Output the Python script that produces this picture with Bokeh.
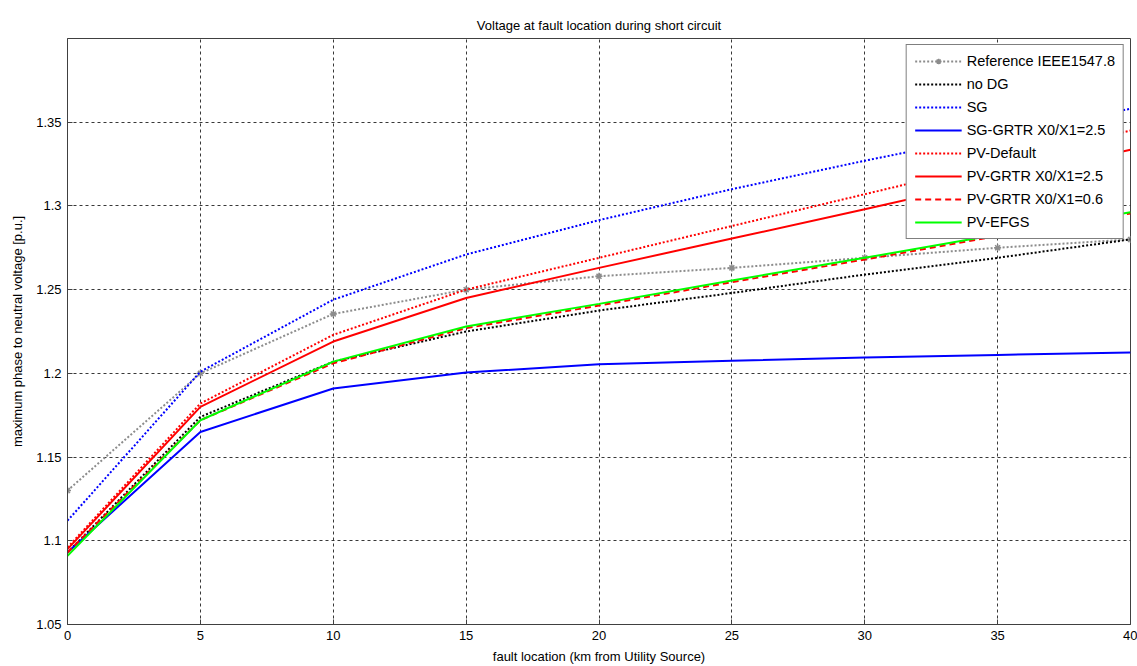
from bokeh.plotting import figure
from bokeh.models import FixedTicker, Legend, LegendItem
from bokeh.embed import file_html
from bokeh.resources import INLINE

# ---- data ----
x_km = [0, 5, 10, 15, 20, 25, 30, 35, 40]
ref_ieee = [1.130, 1.200, 1.2355, 1.250, 1.258, 1.263, 1.269, 1.275, 1.280]
no_dg = [1.093, 1.174, 1.207, 1.225, 1.2375, 1.248, 1.259, 1.269, 1.280]
sg = [1.112, 1.201, 1.244, 1.271, 1.2915, 1.310, 1.327, 1.343, 1.358]
sg_grtr = [1.093, 1.165, 1.191, 1.2005, 1.2055, 1.2075, 1.2095, 1.211, 1.2125]
pv_default = [1.096, 1.182, 1.223, 1.250, 1.269, 1.288, 1.307, 1.326, 1.345]
pv_grtr25 = [1.095, 1.180, 1.219, 1.245, 1.263, 1.2805, 1.298, 1.316, 1.3335]
pv_grtr06 = [1.093, 1.172, 1.206, 1.227, 1.2405, 1.2545, 1.268, 1.282, 1.2955]
pv_efgs = [1.091, 1.172, 1.207, 1.228, 1.2415, 1.2555, 1.269, 1.283, 1.2962]

x_ticks = [0, 5, 10, 15, 20, 25, 30, 35, 40]
y_ticks = [1.05, 1.10, 1.15, 1.20, 1.25, 1.30, 1.35]
y_tick_labels = ["1.05", "1.1", "1.15", "1.2", "1.25", "1.3", "1.35"]

FONT = "Liberation Sans"

p = figure(width=1137, height=666, x_range=(0, 40), y_range=(1.05, 1.40),
           output_backend="svg", toolbar_location=None,
           min_border_left=67, min_border_top=38, min_border_right=7,
           min_border_bottom=41)

p.title.text = "Voltage at fault location during short circuit"
p.title.align = "center"
p.title.text_font = FONT
p.title.text_font_size = "13px"
p.title.text_font_style = "normal"
p.title.text_color = "black"
p.title.offset = 0
p.title.standoff = 12

p.xaxis.axis_label = "fault location (km from Utility Source)"
p.yaxis.axis_label = "maximum phase to neutral voltage [p.u.]"
for ax in (p.xaxis[0], p.yaxis[0]):
    ax.axis_label_text_font = FONT
    ax.axis_label_text_font_size = "13px"
    ax.axis_label_text_font_style = "normal"
    ax.axis_label_text_color = "black"
    ax.major_label_text_font = FONT
    ax.major_label_text_font_size = "13px"
    ax.major_label_text_color = "black"
    ax.major_tick_in = 5
    ax.major_tick_out = 0
    ax.minor_tick_in = 0
    ax.minor_tick_out = 0
    ax.axis_line_color = "#404040"
    ax.major_tick_line_color = "#404040"
    ax.major_label_standoff = 6
    ax.axis_label_standoff = 6

p.xaxis.ticker = FixedTicker(ticks=x_ticks)
p.yaxis.ticker = FixedTicker(ticks=y_ticks)
p.yaxis.major_label_overrides = {t: l for t, l in zip(y_ticks, y_tick_labels)}
p.yaxis.major_label_standoff = 6
p.yaxis.axis_label_standoff = 8

for g in (p.xgrid[0], p.ygrid[0]):
    g.grid_line_color = "#222222"
    g.grid_line_dash = "3 3"
    g.grid_line_width = 1
    g.grid_line_alpha = 0.9

p.outline_line_color = "#404040"
p.outline_line_width = 1
p.background_fill_color = "white"
p.border_fill_color = "white"

DOT = "2 2"
series = [
    ("Reference IEEE1547.8", ref_ieee, "#8c8c8c", DOT),
    ("no DG", no_dg, "black", DOT),
    ("SG", sg, "#0000ff", DOT),
    ("SG-GRTR X0/X1=2.5", sg_grtr, "#0000ff", "solid"),
    ("PV-Default", pv_default, "#ff0000", DOT),
    ("PV-GRTR X0/X1=2.5", pv_grtr25, "#ff0000", "solid"),
    ("PV-GRTR X0/X1=0.6", pv_grtr06, "#ff0000", "6 4"),
    ("PV-EFGS", pv_efgs, "#00ff00", "solid"),
]

items = []
for name, ys, color, dash in series:
    r = p.line(x_km, ys, line_color=color, line_width=2, line_dash=dash)
    rs = [r]
    if name.startswith("Reference"):
        m = p.scatter(x_km, ys, marker="asterisk", size=7, line_color=color, line_width=1.5)
        rs.append(m)
    items.append(LegendItem(label=name, renderers=rs))

legend = Legend(items=items, location="top_right")
legend.label_text_font = FONT
legend.label_text_font_size = "14.5px"
legend.label_text_color = "black"
legend.glyph_width = 47
legend.glyph_height = 14
legend.label_height = 14
legend.spacing = 7
legend.padding = 8
legend.margin = 6
legend.label_standoff = 5
legend.border_line_color = "black"
legend.border_line_width = 1
legend.background_fill_color = "white"
legend.background_fill_alpha = 1.0
p.add_layout(legend)

open("out.html", "w").write(file_html(p, INLINE))
